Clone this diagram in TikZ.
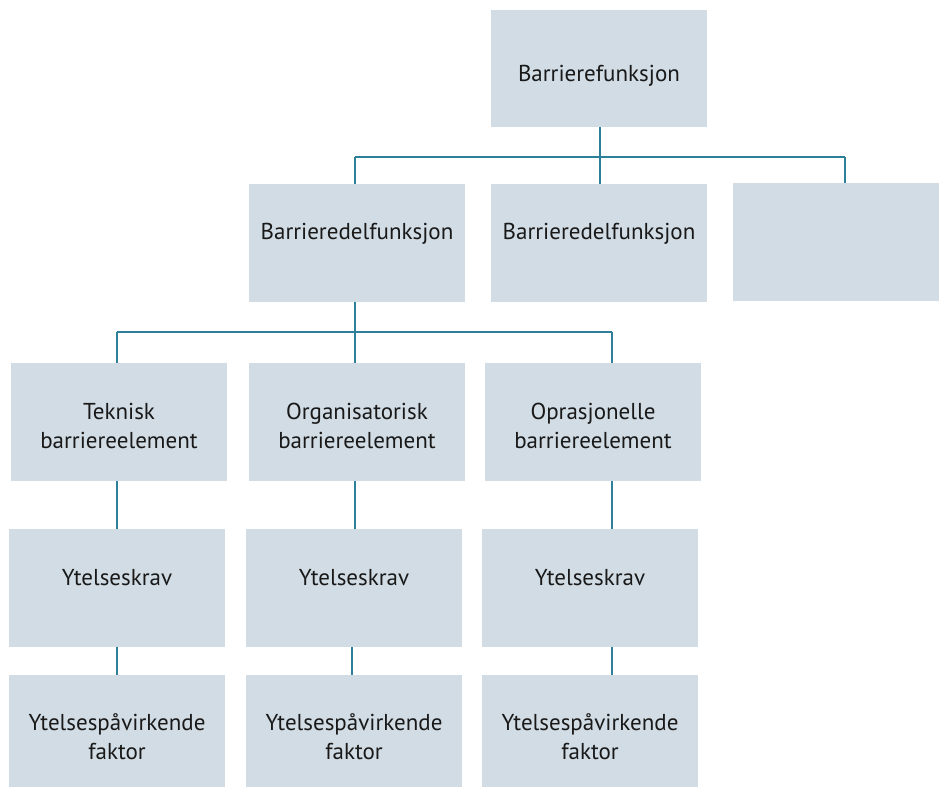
\documentclass[tikz,border=0pt]{standalone}
\usepackage{fontspec}
\setmainfont{PT Sans}
\definecolor{boxfill}{HTML}{D1DCE4}
\definecolor{linecol}{HTML}{2E7F9A}
\begin{document}
\begin{tikzpicture}[x=1pt,y=-1pt,
  bx/.style={fill=boxfill,draw=none,inner sep=0pt},
  lbl/.style={inner sep=0pt,align=center,font=\fontsize{23}{29}\selectfont,text=black!90},
  conn/.style={draw=linecol,line width=2.2pt}]
\useasboundingbox (0,0) rectangle (939,787);
\newcommand{\mkbox}[7]{\node[bx,minimum width={#4-#2},minimum height={#5-#3}] (#1) at ({(#2+#4)/2},{(#3+#5)/2}) {};
\node[lbl] (#1-t) at ([yshift=#6]#1.center) {#7};}
\mkbox{top}{491}{10}{707}{127}{-7pt}{Barrierefunksjon}
\mkbox{r2a}{249}{184}{465}{302}{9.5pt}{Barrieredelfunksjon}
\mkbox{r2b}{491}{184}{707}{302}{9.5pt}{Barrieredelfunksjon}
\node[bx,minimum width=206,minimum height=118] (r2c) at (836,242) {};
\mkbox{r3a}{11}{363}{227}{481}{-4pt}{Teknisk\\barriereelement}
\mkbox{r3b}{249}{363}{465}{481}{-4pt}{Organisatorisk\\barriereelement}
\mkbox{r3c}{485}{363}{701}{481}{-4pt}{Oprasjonelle\\barriereelement}
\mkbox{r4a}{9}{529}{225}{647}{10pt}{Ytelseskrav}
\mkbox{r4b}{246}{529}{462}{647}{10pt}{Ytelseskrav}
\mkbox{r4c}{482}{529}{698}{647}{10pt}{Ytelseskrav}
\mkbox{r5a}{9}{675}{225}{787}{-6pt}{Ytelsespåvirkende\\faktor}
\mkbox{r5b}{246}{675}{462}{787}{-6pt}{Ytelsespåvirkende\\faktor}
\mkbox{r5c}{482}{675}{698}{787}{-6pt}{Ytelsespåvirkende\\faktor}
% bus 1
\coordinate (b1L) at (355,157);
\coordinate (b1M) at (600,157);
\coordinate (b1R) at (845,157);
\draw[conn] (top.south -| b1M) -- (b1M);
\draw[conn] (b1L) -- (b1R);
\draw[conn] (b1L) -- (r2a.north -| b1L);
\draw[conn] (b1M) -- (r2b.north -| b1M);
\draw[conn] (b1R) -- (r2c.north -| b1R);
% bus 2
\coordinate (b2L) at (117,332);
\coordinate (b2M) at (355,332);
\coordinate (b2R) at (612,332);
\draw[conn] (r2a.south -| b2M) -- (b2M);
\draw[conn] (b2L) -- (b2R);
\draw[conn] (b2L) -- (r3a.north -| b2L);
\draw[conn] (b2M) -- (r3b.north -| b2M);
\draw[conn] (b2R) -- (r3c.north -| b2R);
% columns
\coordinate (ca) at (117,0);
\coordinate (cb) at (355,0);
\coordinate (cb2) at (352,0);
\coordinate (cc) at (612,0);
\draw[conn] (r3a.south -| ca) -- (r4a.north -| ca);
\draw[conn] (r4a.south -| ca) -- (r5a.north -| ca);
\draw[conn] (r3b.south -| cb) -- (r4b.north -| cb);
\draw[conn] (r4b.south -| cb2) -- (r5b.north -| cb2);
\draw[conn] (r3c.south -| cc) -- (r4c.north -| cc);
\draw[conn] (r4c.south -| cc) -- (r5c.north -| cc);
\end{tikzpicture}
\end{document}
